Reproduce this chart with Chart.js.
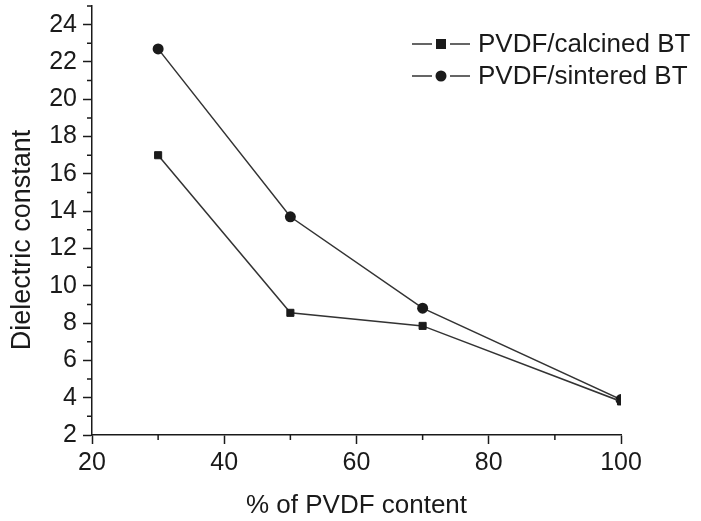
<!DOCTYPE html>
<html>

<head>
    <title>Dielectric constant vs PVDF content</title>
    <script src="https://cdn.jsdelivr.net/npm/chart.js"></script>
    <style>
        body { margin: 0; background: #fff; }
        #wrap { width: 701px; height: 521px; }
    </style>
</head>

<body>
    <div id="wrap"><canvas id="dielChart" width="701" height="521"></canvas></div>

    <script>
        // values
        const pvdfContent = [30, 50, 70, 100];
        const calcinedBT = [17.0, 8.55, 7.85, 3.8];
        const sinteredBT = [22.7, 13.7, 8.8, 3.9];
        const xTicks = [20, 40, 60, 80, 100];
        const yTicks = [2, 4, 6, 8, 10, 12, 14, 16, 18, 20, 22, 24];
        const yTitle = 'Dielectric constant';

        const ink = '#1a1a1a';
        const lineInk = '#333333';
        const fontFamily = '"Liberation Sans", Arial, sans-serif';

        // minor ticks, drawn from the scales themselves
        const minorTicks = {
            id: 'minorTicks',
            afterDraw(chart) {
                const c = chart.ctx;
                const x = chart.scales.x, y = chart.scales.y;
                c.save();
                c.strokeStyle = ink;
                c.lineWidth = 1.5;
                c.beginPath();
                for (let v = 30; v < 100; v += 20) {
                    const px = x.getPixelForValue(v);
                    c.moveTo(px, chart.chartArea.bottom);
                    c.lineTo(px, chart.chartArea.bottom + 5);
                }
                for (let v = 3; v <= 25; v += 2) {
                    const py = y.getPixelForValue(v);
                    c.moveTo(chart.chartArea.left, py);
                    c.lineTo(chart.chartArea.left - 5, py);
                }
                c.stroke();
                c.restore();
            }
        };

        // y title sits a bit below the plot's middle in the original
        const sideTitle = {
            id: 'sideTitle',
            afterDraw(chart) {
                const c = chart.ctx;
                c.save();
                c.font = '27px ' + fontFamily;
                c.fillStyle = ink;
                c.textAlign = 'center';
                c.textBaseline = 'middle';
                c.translate(23, 240);
                c.rotate(-Math.PI / 2);
                c.fillText(yTitle, 0, 0);
                c.restore();
            }
        };

        // legend as "—■— label"
        const lineLegend = {
            id: 'lineLegend',
            afterDraw(chart) {
                const c = chart.ctx;
                c.save();
                c.font = '26px ' + fontFamily;
                c.textBaseline = 'middle';
                chart.data.datasets.forEach((ds, i) => {
                    const yy = 44 + i * 32;
                    const x0 = 412;
                    c.strokeStyle = lineInk;
                    c.lineWidth = 1.5;
                    c.beginPath();
                    c.moveTo(x0, yy); c.lineTo(x0 + 20, yy);
                    c.moveTo(x0 + 38, yy); c.lineTo(x0 + 58, yy);
                    c.stroke();
                    c.fillStyle = ink;
                    if (ds.pointStyle === 'rect') {
                        c.fillRect(x0 + 24, yy - 5, 10, 10);
                    } else {
                        c.beginPath();
                        c.arc(x0 + 29, yy, 5.5, 0, Math.PI * 2);
                        c.fill();
                    }
                    c.fillText(ds.label, x0 + 66, yy + 1);
                });
                c.restore();
            }
        };

        const ctx = document.getElementById('dielChart').getContext('2d');
        const chart = new Chart(ctx, {
            type: 'line',
            data: {
                labels: pvdfContent,
                datasets: [{
                    label: 'PVDF/calcined BT',
                    data: pvdfContent.map((v, i) => ({ x: v, y: calcinedBT[i] })),
                    borderColor: lineInk,
                    borderWidth: 1.5,
                    pointStyle: 'rect',
                    pointRadius: 5,
                    pointBackgroundColor: ink,
                    pointBorderColor: ink,
                    pointBorderWidth: 1
                }, {
                    label: 'PVDF/sintered BT',
                    data: pvdfContent.map((v, i) => ({ x: v, y: sinteredBT[i] })),
                    borderColor: lineInk,
                    borderWidth: 1.5,
                    pointStyle: 'circle',
                    pointRadius: 5.5,
                    pointBackgroundColor: ink,
                    pointBorderColor: ink,
                    pointBorderWidth: 0
                }]
            },
            options: {
                responsive: false,
                animation: false,
                layout: { padding: { top: 6, right: 80, left: 0, bottom: 0 } },
                plugins: {
                    legend: { display: false },
                    tooltip: { enabled: false }
                },
                scales: {
                    x: {
                        type: 'linear',
                        min: 20,
                        max: 100,
                        afterFit: s => { s.height = 86; },
                        afterBuildTicks: s => { s.ticks = xTicks.map(v => ({ value: v })); },
                        grid: { drawOnChartArea: false, tickLength: 9, tickWidth: 1.5, tickColor: ink },
                        border: { color: ink, width: 1.5 },
                        ticks: { color: ink, font: { family: fontFamily, size: 25 }, padding: 4, maxRotation: 0 },
                        title: {
                            display: true,
                            text: '% of PVDF content',
                            color: ink,
                            font: { family: fontFamily, size: 26 },
                            padding: 0
                        }
                    },
                    y: {
                        min: 2,
                        max: 25,
                        afterFit: s => { s.width = 92; s.paddingTop = 0; s.paddingBottom = 0; },
                        afterBuildTicks: s => { s.ticks = yTicks.map(v => ({ value: v })); },
                        grid: { drawOnChartArea: false, tickLength: 9, tickWidth: 1.5, tickColor: ink },
                        border: { color: ink, width: 1.5 },
                        ticks: { color: ink, font: { family: fontFamily, size: 25 }, padding: 6 }
                    }
                }
            },
            plugins: [minorTicks, sideTitle, lineLegend]
        });
    </script>
</body>

</html>
